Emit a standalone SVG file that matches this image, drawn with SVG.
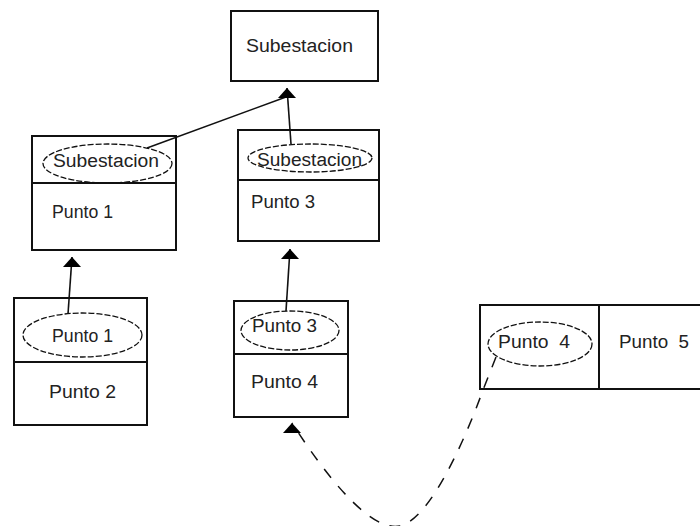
<svg xmlns="http://www.w3.org/2000/svg" width="700" height="526" viewBox="0 0 700 526">
<defs>
<style>
.box{fill:#fff;stroke:#111;stroke-width:2}
.div{stroke:#111;stroke-width:2;fill:none}
.ell{fill:none;stroke:#111;stroke-width:1.3;stroke-dasharray:6 2}
.t{font-family:"Liberation Sans",Arial,sans-serif;font-size:18px;fill:#222}
.ln{stroke:#111;stroke-width:1.6;fill:none}
.dash{stroke:#111;stroke-width:1.5;fill:none;stroke-dasharray:11 11}
</style>
<marker id="up" markerUnits="userSpaceOnUse" markerWidth="20" markerHeight="12" refX="9" refY="0" orient="0" overflow="visible">
<path d="M0,10 L9,0 L18,10 Z" fill="#000"/>
</marker>
</defs>
<rect width="700" height="526" fill="#fff"/>

<g id="top">
<rect class="box" x="231" y="11" width="147" height="70"/>
<text class="t" x="246" y="52" textLength="107" lengthAdjust="spacingAndGlyphs">Subestacion</text>
</g>

<g id="box1">
<rect class="box" x="32" y="136" width="144" height="114"/>
<line class="div" x1="32" y1="183" x2="176" y2="183"/>
<ellipse class="ell" cx="107.5" cy="163.5" rx="64.5" ry="19.5"/>
<text class="t" x="53" y="167" textLength="106" lengthAdjust="spacingAndGlyphs">Subestacion</text>
<text class="t" x="52" y="218" textLength="61" lengthAdjust="spacingAndGlyphs">Punto 1</text>
</g>

<g id="box3">
<rect class="box" x="238" y="130" width="141" height="111"/>
<line class="div" x1="238" y1="180" x2="379" y2="180"/>
<ellipse class="ell" cx="310" cy="158" rx="62" ry="14"/>
<text class="t" x="257" y="166" textLength="105" lengthAdjust="spacingAndGlyphs">Subestacion</text>
<text class="t" x="251" y="208" textLength="64" lengthAdjust="spacingAndGlyphs">Punto 3</text>
</g>

<g id="box2">
<rect class="box" x="14" y="298" width="133" height="127"/>
<line class="div" x1="14" y1="362" x2="147" y2="362"/>
<ellipse class="ell" cx="82.5" cy="335" rx="59.5" ry="22"/>
<text class="t" x="52" y="342" textLength="61" lengthAdjust="spacingAndGlyphs">Punto 1</text>
<text class="t" x="49" y="398" textLength="67" lengthAdjust="spacingAndGlyphs">Punto 2</text>
</g>

<g id="box4">
<rect class="box" x="234" y="301" width="114" height="116"/>
<line class="div" x1="234" y1="354" x2="348" y2="354"/>
<ellipse class="ell" cx="290" cy="330.5" rx="49" ry="19.5"/>
<text class="t" x="252" y="332" textLength="65" lengthAdjust="spacingAndGlyphs">Punto 3</text>
<text class="t" x="251" y="388" textLength="67" lengthAdjust="spacingAndGlyphs">Punto 4</text>
</g>

<g id="box5">
<rect class="box" x="480" y="305" width="240" height="84"/>
<line class="div" x1="599" y1="305" x2="599" y2="389"/>
<ellipse class="ell" cx="540" cy="344" rx="52" ry="22"/>
<text class="t" x="498" y="348" textLength="72" lengthAdjust="spacingAndGlyphs" xml:space="preserve">Punto  4</text>
<text class="t" x="619" y="348" textLength="70" lengthAdjust="spacingAndGlyphs" xml:space="preserve">Punto  5</text>
</g>

<g id="connectors">
<line class="ln" x1="147" y1="148" x2="286" y2="97"/>
<line class="ln" x1="291" y1="144" x2="287" y2="88" marker-end="url(#up)"/>
<line class="ln" x1="68" y1="314" x2="72" y2="257" marker-end="url(#up)"/>
<line class="ln" x1="286" y1="311" x2="290" y2="249" marker-end="url(#up)"/>
<path class="dash" d="M496,357 L483,390 C462,448 428,520 400,526 C372,532 330,482 292,423" marker-end="url(#up)"/>
</g>
</svg>
